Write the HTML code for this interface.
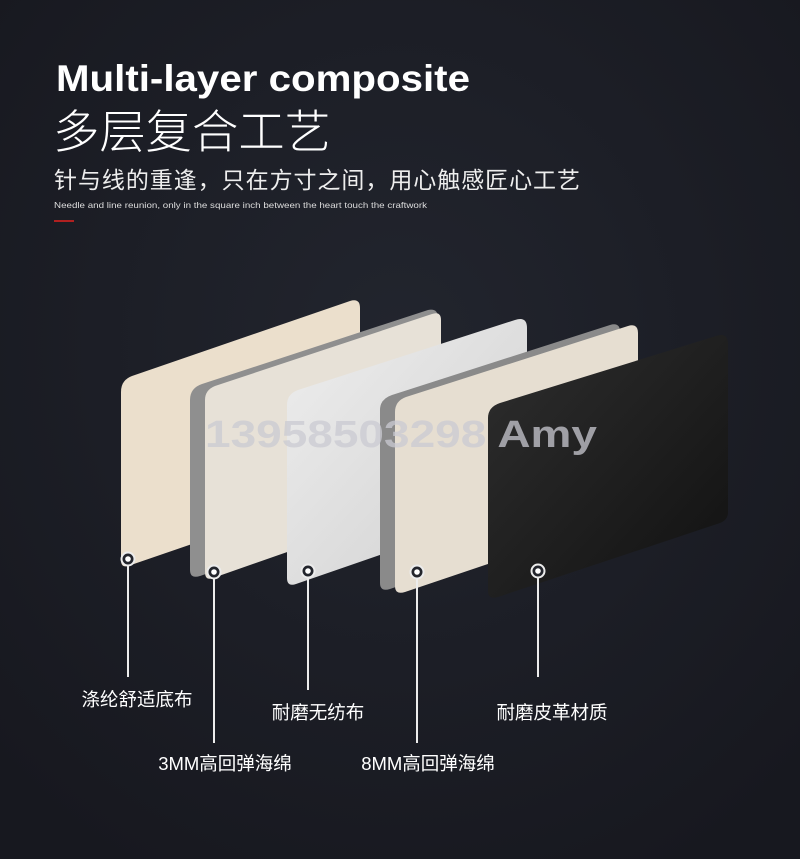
<!DOCTYPE html>
<html><head><meta charset="utf-8"><style>
body{margin:0;background:#1b1d25;width:800px;height:859px;overflow:hidden;font-family:"Liberation Sans","Noto Sans CJK SC",sans-serif}
</style></head><body>
<svg width="800" height="859" xmlns="http://www.w3.org/2000/svg" style="position:absolute;left:0;top:0">
<defs>
<radialGradient id="bg" cx="50%" cy="40%" r="70%"><stop offset="0" stop-color="#22252e"/><stop offset="1" stop-color="#17181f"/></radialGradient>
<linearGradient id="wh" x1="0" y1="0" x2="1" y2="1"><stop offset="0" stop-color="#eeeeee"/><stop offset="1" stop-color="#cfcfcf"/></linearGradient>
<linearGradient id="bk" x1="0" y1="0" x2="1" y2="1"><stop offset="0" stop-color="#2e2e2e"/><stop offset="1" stop-color="#111"/></linearGradient>
</defs>
<rect width="800" height="859" fill="url(#bg)"/>
<text x="56" y="91" font-size="37" font-weight="bold" fill="#fff" textLength="414" lengthAdjust="spacingAndGlyphs" font-family="Liberation Sans, sans-serif">Multi-layer composite</text>
<text x="53" y="148" font-size="46" fill="#fff" textLength="278" lengthAdjust="spacingAndGlyphs" font-family="Noto Sans CJK SC, sans-serif" font-weight="300">多层复合工艺</text>
<text x="54" y="188" font-size="23" fill="#eee" textLength="526" font-family="Noto Sans CJK SC, sans-serif">针与线的重逢，只在方寸之间，用心触感匠心工艺</text>
<text x="54" y="208" font-size="8.5" fill="#ddd" textLength="373" lengthAdjust="spacingAndGlyphs">Needle and line reunion, only in the square inch between the heart touch the craftwork</text>
<rect x="54" y="220" width="20" height="2" fill="#b02020"/>
<path d="M121,392 Q121,380 132,376 L350,301 Q360,298 360,308 L360,478 Q360,486 352,489 L128,566 Q121,568 121,560 Z" fill="#ebdfcc"/>
<path d="M190,400 Q190,388 202,384 L428,310 Q438,308 438,318 L438,486 Q438,494 430,497 L200,576 Q190,579 190,570 Z" fill="#8f8f8f"/>
<path d="M205,400 Q205,390 215,386 L432,314 Q441,311 441,320 L441,490 Q441,498 433,501 L213,578 Q205,581 205,572 Z" fill="#e7e1d7"/>
<path d="M287,405 Q287,394 298,390 L515,320 Q527,316 527,328 L527,496 Q527,504 519,507 L296,584 Q287,587 287,578 Z" fill="url(#wh)"/>
<path d="M380,410 Q380,399 392,395 L610,325 Q620,322 620,332 L620,502 Q620,510 612,513 L390,589 Q380,592 380,583 Z" fill="#8a8a8a"/>
<path d="M395,412 Q395,401 406,397 L628,326 Q638,323 638,333 L638,505 Q638,513 630,516 L405,592 Q395,595 395,586 Z" fill="#e6ded1"/>
<path d="M488,418 Q488,407 500,403 L716,336 Q728,332 728,344 L728,512 Q728,520 720,523 L498,597 Q488,600 488,591 Z" fill="url(#bk)"/>
<text x="205" y="447" font-size="38" font-weight="bold" fill="#c9cad2" fill-opacity="0.75" textLength="392" lengthAdjust="spacingAndGlyphs" font-family="Liberation Sans, sans-serif">13958503298 Amy</text>
<g stroke="#ececec" stroke-width="2" fill="#23252c">
<line x1="128" y1="566" x2="128" y2="677"/><circle cx="128" cy="559" r="6.5"/>
<line x1="214" y1="579" x2="214" y2="743"/><circle cx="214" cy="572" r="6.5"/>
<line x1="308" y1="578" x2="308" y2="690"/><circle cx="308" cy="571" r="6.5"/>
<line x1="417" y1="579" x2="417" y2="743"/><circle cx="417" cy="572" r="6.5"/>
<line x1="538" y1="578" x2="538" y2="677"/><circle cx="538" cy="571" r="6.5"/>
</g>
<g fill="#fff"><circle cx="128" cy="559" r="2.8"/><circle cx="214" cy="572" r="2.8"/><circle cx="308" cy="571" r="2.8"/><circle cx="417" cy="572" r="2.8"/><circle cx="538" cy="571" r="2.8"/></g>
<g fill="#fff" font-size="18.5" text-anchor="middle" font-family="Liberation Sans, Noto Sans CJK SC, sans-serif">
<text x="137" y="706">涤纶舒适底布</text>
<text x="225" y="770">3MM高回弹海绵</text>
<text x="318" y="719">耐磨无纺布</text>
<text x="428" y="770">8MM高回弹海绵</text>
<text x="552" y="719">耐磨皮革材质</text>
</g>
</svg>
</body></html>
